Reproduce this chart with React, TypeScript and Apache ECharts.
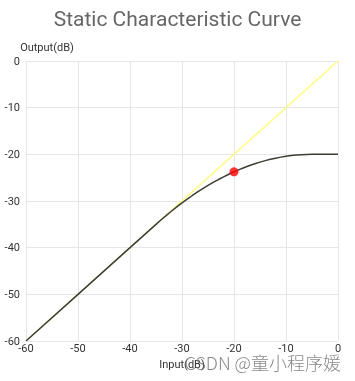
import React, { useEffect, useRef } from "react";
import * as echarts from "echarts";

const inputs = [-60, -50, -40, -35, -34, -33, -32, -31, -30, -29, -28, -27, -26, -25, -24, -23, -22, -21, -20, -19, -18, -17, -16, -15, -14, -13, -12, -11, -10, -9, -8, -7, -6, -5, -2, 0];
const outputs = [-60, -50, -40, -35, -34.02, -33.07, -32.15, -31.27, -30.42, -29.6, -28.82, -28.07, -27.35, -26.67, -26.02, -25.4, -24.82, -24.27, -23.75, -23.27, -22.82, -22.4, -22.02, -21.67, -21.35, -21.07, -20.82, -20.6, -20.42, -20.27, -20.15, -20.07, -20.02, -20, -20, -20];
const diagonalX = [-60, 0];
const diagonalY = [-60, 0];
const markerX = [-20];
const markerY = [-23.75];

export default function App() {
  const ref = useRef<HTMLDivElement>(null);
  useEffect(() => {
    const chart = echarts.init(ref.current!, undefined, { renderer: "svg" });
    chart.setOption({
      animation: false,
      title: {
        text: "Static Characteristic Curve",
        left: "center",
        top: 3,
        textStyle: { color: "#666", fontSize: 21, fontWeight: "normal", fontFamily: "Roboto" },
      },
      graphic: [
        {
          type: "text",
          right: 14,
          bottom: 10,
          style: { text: "CSDN @童小程序媛", fill: "rgba(115,115,115,0.85)", fontSize: 18, fontFamily: "Noto Sans CJK SC", fontWeight: 300 },
          z: 100,
        },
      ],
      grid: { left: 26, right: 17, top: 61, bottom: 40 },
      xAxis: {
        type: "value",
        min: -60,
        max: 0,
        interval: 10,
        name: "Input(dB)",
        nameLocation: "middle",
        nameGap: 8,
        nameTextStyle: { color: "#333", fontSize: 11, fontFamily: "Roboto" },
        axisLine: { show: false, onZero: false },
        axisTick: { show: false },
        axisLabel: { color: "#333", fontSize: 11, margin: 2, fontFamily: "Roboto" },
        splitLine: { show: true, lineStyle: { color: "#e6e6e6", width: 1 } },
      },
      yAxis: {
        type: "value",
        min: -60,
        max: 0,
        interval: 10,
        name: "Output(dB)",
        nameLocation: "end",
        nameGap: 8,
        nameTextStyle: { color: "#333", fontSize: 11, align: "center", padding: [0, 0, 0, 42], fontFamily: "Roboto" },
        axisLine: { show: false, onZero: false },
        axisTick: { show: false },
        axisLabel: { color: "#333", fontSize: 11, margin: 6, fontFamily: "Roboto" },
        splitLine: { show: true, lineStyle: { color: "#e6e6e6", width: 1 } },
      },
      series: [
        {
          type: "line",
          data: diagonalX.map((x, i) => [x, diagonalY[i]]),
          showSymbol: false,
          lineStyle: { color: "#ffff70", width: 1.2 },
          z: 1,
        },
        {
          type: "line",
          data: inputs.map((x, i) => [x, outputs[i]]),
          showSymbol: false,
          lineStyle: { color: "#3d3d35", width: 1.5 },
          z: 2,
        },
        {
          type: "scatter",
          data: markerX.map((x, i) => [x, markerY[i]]),
          symbolSize: 9,
          itemStyle: { color: "#ff0000" },
          z: 3,
        },
      ],
    });
    return () => chart.dispose();
  }, []);
  return <div ref={ref} style={{ position: "fixed", left: 0, top: 0, width: 355, height: 381 }} />;
}
